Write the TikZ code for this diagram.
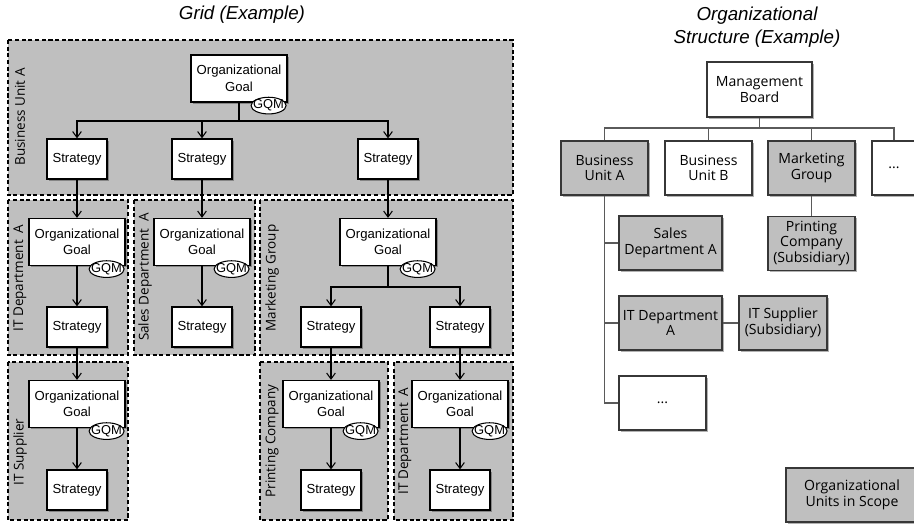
\documentclass[tikz,border=0pt]{standalone}
\usepackage{fontspec}
\setmainfont{Liberation Sans}
\newfontfamily\segoe{Open Sans}
\usetikzlibrary{arrows.meta,shapes.geometric,shadows}
\definecolor{scopegray}{RGB}{191,191,191}
\definecolor{boxline}{RGB}{55,55,55}
\definecolor{connline}{RGB}{90,90,90}

\begin{document}
\begin{tikzpicture}[
    x=0.03cm, y=-0.03cm,
    shade/.style={drop shadow={shadow xshift=0.5mm, shadow yshift=-0.5mm, fill=black, opacity=0.3}},
    goal/.style={draw, fill=white, line width=1pt, shade, minimum width=2.88cm, minimum height=1.41cm, align=center, inner sep=1pt, font=\fontsize{11.2}{14}\selectfont},
    strat/.style={draw, fill=white, line width=1pt, shade, minimum width=1.8cm, minimum height=1.2cm, font=\fontsize{11.2}{14}\selectfont},
    gqm/.style={ellipse, draw, fill=white, line width=0.9pt, minimum width=1.05cm, minimum height=0.5cm, inner sep=0pt,
      label={[font=\fontsize{11}{12}\selectfont, inner sep=0pt]center:GQM}},
    region/.style={draw, fill=scopegray, line width=0.9pt, dash pattern=on 3.5pt off 2.2pt},
    unit/.style={rotate=90, font=\segoe\fontsize{11.5}{13}\selectfont},
    arr/.style={-{Straight Barb[length=1.8mm, width=2.6mm]}, line width=0.9pt},
    org/.style={draw=boxline, fill=white, line width=1.1pt, shade, minimum width=2.61cm, minimum height=1.62cm, align=center, inner sep=1pt, font=\segoe\fontsize{12}{13.2}\selectfont},
    inscope/.style={org, fill=scopegray},
    conn/.style={draw=connline, line width=1pt},
    ttl/.style={align=center, font=\itshape\fontsize{16}{19.6}\selectfont}
  ]
    \useasboundingbox (0,0) rectangle (914,523);

    % grid
    \node[ttl] (gridttl) at (242,15) {Grid (Example)};

    \draw[region] (8,40) rectangle (513,195);
    \draw[region] (8,200) rectangle (128,355);
    \draw[region] (134,200) rectangle (255,355);
    \draw[region] (260,200) rectangle (513,355);
    \draw[region] (8,362) rectangle (128,520);
    \draw[region] (260,362) rectangle (388,520);
    \draw[region] (394,362) rectangle (513,520);

    \node[unit] (lbua) at (20,117) {Business Unit A};
    \node[unit] (lita) at (20,278) {IT Department\ \ A};
    \node[unit] (lsda) at (145,277) {Sales Department\ \ A};
    \node[unit] (lmg) at (272,278) {Marketing Group};
    \node[unit] (lits) at (20,452) {IT Supplier};
    \node[unit] (lpc) at (272,441) {Printing Company};
    \node[unit] (litb) at (405,441) {IT Department\ \ A};

    \node[goal] (g1) at (239,78.5) {Organizational\\Goal};
    \node[strat] (s11) at (77,159) {Strategy};
    \node[strat] (s12) at (202,159) {Strategy};
    \node[strat] (s13) at (388,159) {Strategy};

    \node[goal] (g21) at (77,242) {Organizational\\Goal};
    \node[goal] (g22) at (202,242) {Organizational\\Goal};
    \node[goal] (g23) at (388,242) {Organizational\\Goal};
    \node[strat] (s21) at (77,327) {Strategy};
    \node[strat] (s22) at (202,327) {Strategy};
    \node[strat] (s23) at (331,327) {Strategy};
    \node[strat] (s24) at (460,327) {Strategy};

    \node[goal] (g31) at (77,404) {Organizational\\Goal};
    \node[goal] (g32) at (331,404) {Organizational\\Goal};
    \node[goal] (g33) at (460,404) {Organizational\\Goal};
    \node[strat] (s31) at (77,490) {Strategy};
    \node[strat] (s32) at (331,490) {Strategy};
    \node[strat] (s33) at (460,490) {Strategy};

    \foreach \g in {g1,g21,g22,g23,g31,g32,g33}
      \node[gqm] (\g q) at ([xshift=-0.57cm, yshift=-0.09cm]\g.south east) {};

    \coordinate (j1) at (239,121);
    \coordinate (j3) at (388,287);
    \draw[arr] (g1.south) -- (j1) -| (s11.north);
    \draw[arr] (j1) -| (s12.north);
    \draw[arr] (j1) -| (s13.north);
    \draw[arr] (s11) -- (g21);
    \draw[arr] (s12) -- (g22);
    \draw[arr] (s13) -- (g23);
    \draw[arr] (g21) -- (s21);
    \draw[arr] (g22) -- (s22);
    \draw[arr] (g23.south) -- (j3) -| (s23.north);
    \draw[arr] (j3) -| (s24.north);
    \draw[arr] (s21) -- (g31);
    \draw[arr] (s23) -- (g32);
    \draw[arr] (s24) -- (g33);
    \draw[arr] (g31) -- (s31);
    \draw[arr] (g32) -- (s32);
    \draw[arr] (g33) -- (s33);

    % organizational structure
    \node[ttl] (orgttl) at (757,27.5) {Organizational\\Structure (Example)};

    \node[org, minimum width=3.15cm, minimum height=1.65cm] (mb) at (759.5,89.5) {Management\\Board};
    \node[inscope] (bua) at (604.5,168) {Business\\Unit A};
    \node[org] (bub) at (708.5,168) {Business\\Unit B};
    \node[inscope] (mg) at (811.5,168) {Marketing\\Group};
    \node[org, minimum width=1.32cm] (more) at (894,168) {...};
    \node[inscope, minimum width=3.09cm] (sda) at (670.5,243) {Sales\\Department A};
    \node[inscope] (pc) at (811.5,243.5) {Printing\\Company\\(Subsidiary)};
    \node[inscope, minimum width=3.09cm] (ita) at (670.5,323) {IT Department\\A};
    \node[inscope, minimum width=2.64cm] (its) at (783,323) {IT Supplier\\(Subsidiary)};
    \node[org] (more2) at (662.5,403) {...};

    \coordinate (j2) at (759.5,128);
    \draw[conn] (mb.south) -- (j2) -| (bua.north);
    \draw[conn] (j2) -| (bub.north);
    \draw[conn] (j2) -| (mg.north);
    \draw[conn] (j2) -| (more.north);
    \draw[conn] (bua.south) |- (sda.west);
    \draw[conn] (bua.south) |- (ita.west);
    \draw[conn] (bua.south) |- (more2.west);
    \draw[conn] (mg) -- (pc);
    \draw[conn] (ita) -- (its);

    \node[inscope, minimum width=3.96cm] (legend) at (852,495) {Organizational\\Units in Scope};
  \end{tikzpicture}
\end{document}
